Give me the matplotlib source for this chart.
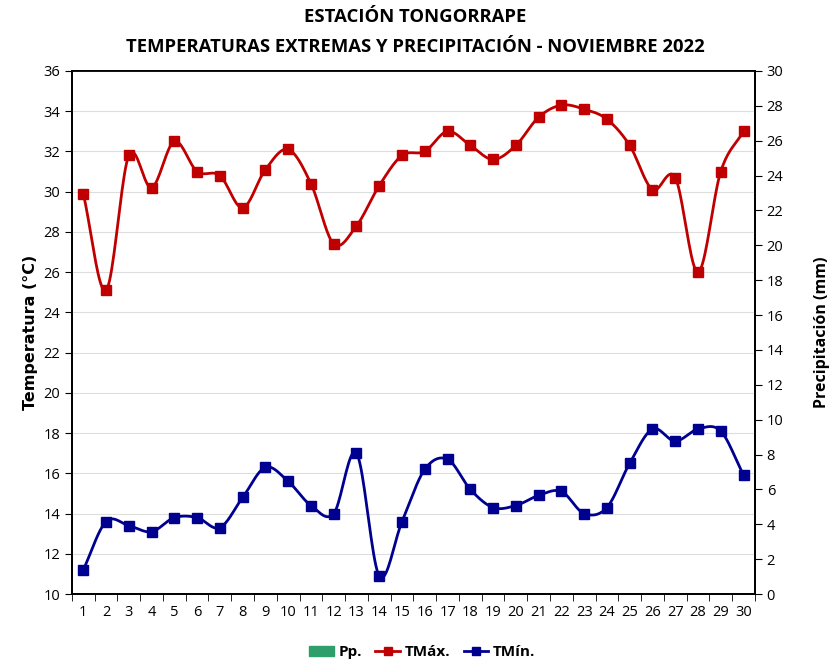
import matplotlib
matplotlib.use("Agg")
import matplotlib.pyplot as plt
import numpy as np
from matplotlib.patches import Patch
from matplotlib.lines import Line2D

plt.rcParams['font.family'] = ['Open Sans', 'DejaVu Sans']

days = list(range(1, 31))
tmax = [29.9, 25.1, 31.8, 30.2, 32.5, 31.0, 30.8, 29.2, 31.1, 32.1,
        30.4, 27.4, 28.3, 30.3, 31.8, 32.0, 33.0, 32.3, 31.6, 32.3,
        33.7, 34.3, 34.1, 33.6, 32.3, 30.1, 30.7, 26.0, 31.0, 33.0]
tmin = [11.2, 13.6, 13.4, 13.1, 13.8, 13.8, 13.3, 14.8, 16.3, 15.6,
        14.4, 14.0, 17.0, 10.9, 13.6, 16.2, 16.7, 15.2, 14.3, 14.4,
        14.9, 15.1, 14.0, 14.3, 16.5, 18.2, 17.6, 18.2, 18.1, 15.9]
pp = [0.0] * 30

RED = '#C00000'
BLUE = '#000090'
GREEN = '#2E9E6B'


def smooth(x, y, n=20):
    # Catmull-Rom curve through the points (like Excel smoothed lines)
    x = np.asarray(x, float)
    y = np.asarray(y, float)
    px = np.concatenate([[2 * x[0] - x[1]], x, [2 * x[-1] - x[-2]]])
    py = np.concatenate([[2 * y[0] - y[1]], y, [2 * y[-1] - y[-2]]])
    t = np.linspace(0, 1, n, endpoint=False)
    xs, ys = [], []
    for i in range(1, len(px) - 2):
        for p, out in ((px, xs), (py, ys)):
            p0, p1, p2, p3 = p[i - 1], p[i], p[i + 1], p[i + 2]
            out.extend(0.5 * (2 * p1 + (-p0 + p2) * t
                              + (2 * p0 - 5 * p1 + 4 * p2 - p3) * t ** 2
                              + (-p0 + 3 * p1 - 3 * p2 + p3) * t ** 3))
    xs.append(x[-1])
    ys.append(y[-1])
    return xs, ys


fig = plt.figure(figsize=(8.36, 6.63), dpi=100)
ax = fig.add_axes([0.086, 0.104, 0.817, 0.789])
ax2 = ax.twinx()

ax2.bar(days, pp, width=0.6, color=GREEN)
ax2.set_ylim(0, 30)
ax2.set_yticks(range(0, 31, 2))

for y, c in ((tmax, RED), (tmin, BLUE)):
    sx, sy = smooth(days, y)
    ax.plot(sx, sy, color=c, lw=2, zorder=3)
    ax.plot(days, y, ls='none', marker='s', ms=7, color=c, zorder=4)

ax.set_zorder(ax2.get_zorder() + 1)
ax.patch.set_visible(False)

ax.set_xlim(0.5, 30.5)
ax.set_ylim(10, 36)
ax.set_yticks(range(10, 37, 2))
ax.set_xticks(days)
ax.set_xticks(np.arange(0.5, 31, 1), minor=True)
ax.tick_params(axis='x', which='major', length=0, pad=8)
ax.tick_params(axis='x', which='minor', length=5, direction='out')
ax.tick_params(axis='y', length=5, direction='out')
ax2.tick_params(axis='y', length=5, direction='out')
for a in (ax, ax2):
    a.tick_params(labelsize=10.5, colors='#000000')
    for s in a.spines.values():
        s.set_linewidth(1.3)
ax.grid(axis='y', color='#DDDDDD', lw=0.8)
ax.set_axisbelow(True)

ax.set_ylabel('Temperatura (°C)', fontsize=11.5, fontweight='bold', labelpad=4,
              family='DejaVu Sans')
ax2.set_ylabel('Precipitación (mm)', fontsize=11.5, fontweight='bold', labelpad=22)

fig.text(0.497, 0.974, 'ESTACIÓN TONGORRAPE', ha='center', va='center',
         fontsize=13.3, fontweight='bold')
fig.text(0.497, 0.929, 'TEMPERATURAS EXTREMAS Y PRECIPITACIÓN - NOVIEMBRE 2022',
         ha='center', va='center', fontsize=13.3, fontweight='bold')

handles = [Patch(color=GREEN, label='Pp.'),
           Line2D([], [], color=RED, lw=2, marker='s', ms=6, label='TMáx.'),
           Line2D([], [], color=BLUE, lw=2, marker='s', ms=6, label='TMín.')]
fig.legend(handles=handles, loc='center', bbox_to_anchor=(0.505, 0.016), ncol=3,
           frameon=False, prop={'size': 11, 'weight': 'bold'},
           handlelength=1.6, handletextpad=0.3, columnspacing=0.9)

fig.savefig('out.png', dpi=100)
